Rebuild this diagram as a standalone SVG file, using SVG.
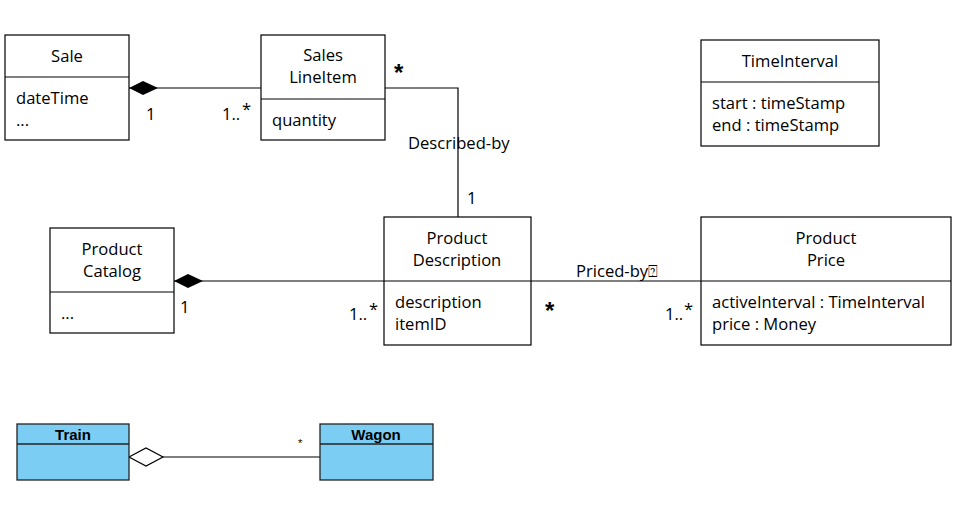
<svg xmlns="http://www.w3.org/2000/svg" width="956" height="505" viewBox="0 0 956 505">
<style>
.box{fill:#fff;stroke:#000;stroke-width:1.2}
.ln{stroke:#000;stroke-width:1.2;fill:none}
.t{font-family:"Open Sans","Liberation Sans",sans-serif;font-size:16.6px;fill:#000}
.c{text-anchor:middle}
.star{font-family:"Liberation Sans",sans-serif;font-size:24px;font-weight:bold}
.blue{fill:#7BCDF3;stroke:#222;stroke-width:1.3}
.bt{font-family:"Liberation Sans",Arial,sans-serif;font-size:15px;font-weight:bold;fill:#000;text-anchor:middle}
</style>
<rect width="956" height="505" fill="#fff"/>
<g id="connectors">
<line class="ln" x1="129" y1="88" x2="261" y2="88"/>
<path d="M129,88 L143,81 L158,88 L143,95 Z" fill="#000"/>
<polyline class="ln" points="385,88 458,88 458,217"/>
<line class="ln" x1="174" y1="281" x2="384" y2="281"/>
<path d="M174,281 L188,274 L203,281 L188,288 Z" fill="#000"/>
<line class="ln" x1="531" y1="281" x2="701" y2="281"/>
<line class="ln" x1="129" y1="457" x2="320" y2="457"/>
<path d="M129,457 L146,448 L163,457 L146,466 Z" fill="#fff" stroke="#000" stroke-width="1.2"/>
<text class="t" x="146" y="120">1</text>
<text class="t" x="222" y="120">1..</text>
<text class="t" x="242" y="115">*</text>
<text class="t star" x="394" y="81">*</text>
<text class="t" x="408" y="149">Described-by</text>
<text class="t" x="467" y="204">1</text>
<text class="t" x="180" y="313">1</text>
<text class="t" x="349" y="320">1..</text>
<text class="t" x="369" y="315">*</text>
<text class="t" x="576" y="277">Priced-by<tspan font-family="DejaVu Sans" font-size="16">⍰</tspan></text>
<text class="t star" x="545" y="319">*</text>
<text class="t" x="665" y="320">1..</text>
<text class="t" x="684" y="315">*</text>
<text x="298" y="447" font-family="Liberation Sans,sans-serif" font-size="11" fill="#000">*</text>
</g>
<g id="sale">
<rect class="box" x="5" y="35" width="124" height="105"/>
<line class="ln" x1="5" y1="77" x2="129" y2="77"/>
<text class="t c" x="67" y="62">Sale</text>
<text class="t" x="16" y="104">dateTime</text>
<text class="t" x="16" y="126">...</text>
</g>
<g id="saleslineitem">
<rect class="box" x="261" y="35" width="124" height="105"/>
<line class="ln" x1="261" y1="99" x2="385" y2="99"/>
<text class="t c" x="323" y="61">Sales</text>
<text class="t c" x="323" y="83">LineItem</text>
<text class="t" x="272" y="126">quantity</text>
</g>
<g id="timeinterval">
<rect class="box" x="701" y="40" width="178" height="106"/>
<line class="ln" x1="701" y1="82" x2="879" y2="82"/>
<text class="t c" x="790" y="67">TimeInterval</text>
<text class="t" x="712" y="109">start : timeStamp</text>
<text class="t" x="712" y="131">end : timeStamp</text>
</g>
<g id="productcatalog">
<rect class="box" x="50" y="228" width="124" height="105"/>
<line class="ln" x1="50" y1="292" x2="174" y2="292"/>
<text class="t c" x="112" y="255">Product</text>
<text class="t c" x="112" y="277">Catalog</text>
<text class="t" x="61" y="319">...</text>
</g>
<g id="productdescription">
<rect class="box" x="384" y="217" width="147" height="128"/>
<line class="ln" x1="384" y1="281" x2="531" y2="281"/>
<text class="t c" x="457" y="244">Product</text>
<text class="t c" x="457" y="266">Description</text>
<text class="t" x="395" y="308">description</text>
<text class="t" x="395" y="330">itemID</text>
</g>
<g id="productprice">
<rect class="box" x="701" y="217" width="250" height="128"/>
<line class="ln" x1="701" y1="281" x2="951" y2="281"/>
<text class="t c" x="826" y="244">Product</text>
<text class="t c" x="826" y="266">Price</text>
<text class="t" x="712" y="308">activeInterval : TimeInterval</text>
<text class="t" x="712" y="330">price : Money</text>
</g>
<g id="train">
<rect class="blue" x="17" y="424" width="112" height="56"/>
<line x1="17" y1="444" x2="129" y2="444" stroke="#222" stroke-width="1.3"/>
<text class="bt" x="73" y="440">Train</text>
</g>
<g id="wagon">
<rect class="blue" x="320" y="424" width="113" height="56"/>
<line x1="320" y1="444" x2="433" y2="444" stroke="#222" stroke-width="1.3"/>
<text class="bt" x="376" y="440">Wagon</text>
</g>
</svg>
